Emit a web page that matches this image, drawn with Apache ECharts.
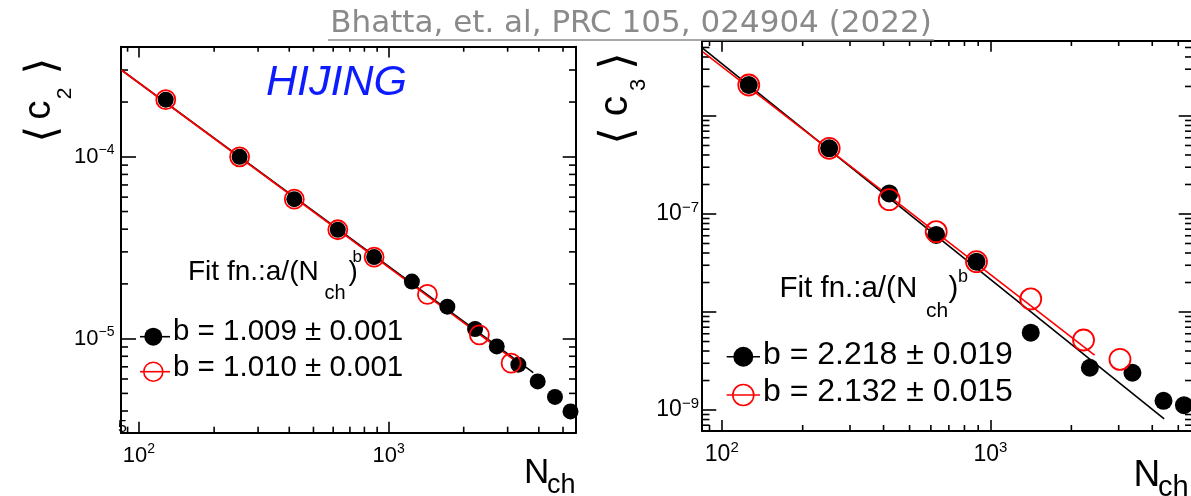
<!DOCTYPE html>
<html>
<head>
<meta charset="utf-8">
<script src="https://cdn.jsdelivr.net/npm/echarts@6/dist/echarts.min.js"></script>
<style>
    html, body { margin: 0; background: #fff; }
    #chart { width: 1191px; height: 496px; }
</style>
</head>
<body>
<div id="chart"></div>
<script>
// x axis (N_ch), both panels
const nchRangeL = [84.7, 5636];
const nchRangeR = [84.4, 5623];
const nchLabels = [2, 3];
const nchMinor = [90, 200, 300, 400, 500, 600, 700, 800, 900, 2000, 3000, 4000, 5000];

// left panel: <c2>
const c2Range = [3.04e-6, 4.03e-4];
const c2Labels = [-5, -4];
const c2Minor = [4e-6, 5e-6, 6e-6, 7e-6, 8e-6, 9e-6,
    2e-5, 3e-5, 4e-5, 5e-5, 6e-5, 7e-5, 8e-5, 9e-5, 2e-4, 3e-4];
const c2Black = [[128, 2.06e-4], [253, 1.0e-4], [419, 5.85e-5], [626, 3.97e-5], [875, 2.81e-5],
    [1240, 2.06e-5], [1720, 1.50e-5], [2221, 1.13e-5], [2713, 9.06e-6], [3311, 7.19e-6],
    [3958, 5.82e-6], [4642, 4.78e-6], [5357, 3.98e-6]];
const c2Red = [[128, 2.06e-4], [253, 1.0e-4], [419, 5.85e-5], [626, 3.97e-5], [875, 2.81e-5],
    [1431, 1.75e-5], [2311, 1.05e-5], [3097, 7.33e-6]];
const c2BlackFit = [[85, 3.0e-4], [3800, 6.5e-6]];
const c2RedFit = [[85, 3.0e-4], [3200, 7.6e-6]];

// right panel: <c3>
const c3Range = [6.11e-10, 5.82e-6];
const c3Labels = [-9, -7];
const c3Minor = [7e-10, 8e-10, 9e-10,
    2e-9, 3e-9, 4e-9, 5e-9, 6e-9, 7e-9, 8e-9, 9e-9,
    2e-8, 3e-8, 4e-8, 5e-8, 6e-8, 7e-8, 8e-8, 9e-8,
    2e-7, 3e-7, 4e-7, 5e-7, 6e-7, 7e-7, 8e-7, 9e-7,
    2e-6, 3e-6, 4e-6, 5e-6];
const c3Black = [[126, 2.07e-6], [251, 4.68e-7], [420, 1.62e-7], [628, 6.11e-8], [887, 3.26e-8],
    [1412, 6.15e-9], [2343, 2.70e-9], [3375, 2.40e-9], [4405, 1.24e-9], [5250, 1.12e-9]];
const c3Red = [[126, 2.07e-6], [251, 4.68e-7], [420, 1.40e-7], [628, 6.6e-8], [887, 3.26e-8],
    [1412, 1.36e-8], [2220, 5.18e-9], [3033, 3.29e-9]];
const c3BlackFit = [[85, 4.9e-6], [4430, 8.1e-10]];
const c3RedFit = [[85, 4.5e-6], [2440, 3.64e-9]];

const FONT = 'Liberation Sans';
const RED = '#ff0000';

function decadeLabel(list) {
    return function (v) {
        const lg = Math.log10(v);
        const e = Math.round(lg);
        if (Math.abs(lg - e) > 1e-6 || list.indexOf(e) < 0) return '';
        return '{b|10}{s|' + String(e).replace('-', '\u2212') + '}';
    };
}

function logAxis(grid, pos, range, tickLen, labels, size, margin) {
    return {
        type: 'log', logBase: 10, gridIndex: grid, position: pos,
        min: range[0], max: range[1],
        axisLine: { show: true, onZero: false, lineStyle: { color: '#000', width: 2 } },
        axisTick: { show: true, inside: true, length: tickLen, lineStyle: { color: '#000', width: 1.6 } },
        minorTick: { show: false },
        splitLine: { show: false },
        axisLabel: labels ? {
            show: true, margin: margin, showMinLabel: false, showMaxLabel: false,
            formatter: decadeLabel(labels),
            rich: {
                b: { fontSize: size, lineHeight: 28, fontFamily: FONT, color: '#000' },
                s: { fontSize: Math.round(size * 0.65), lineHeight: 14, verticalAlign: 'top', fontFamily: FONT, color: '#000' }
            }
        } : { show: false }
    };
}

// minor ticks on all four sides, placed through the axis scales
function minorTicks(axisIdx, dir, ticks, xr, yr, lens) {
    return {
        type: 'custom', xAxisIndex: axisIdx, yAxisIndex: axisIdx, clip: false, z: 1, silent: true,
        data: ticks.map(v => dir === 'x' ? [v, yr[0]] : [xr[0], v]),
        renderItem: function (params, api) {
            const st = { stroke: '#000', lineWidth: 1.6 };
            if (dir === 'x') {
                const v = api.value(0);
                const b = api.coord([v, yr[0]]), t = api.coord([v, yr[1]]);
                return { type: 'group', children: [
                    { type: 'line', shape: { x1: b[0], y1: b[1], x2: b[0], y2: b[1] - lens[0] }, style: st },
                    { type: 'line', shape: { x1: t[0], y1: t[1], x2: t[0], y2: t[1] + lens[1] }, style: st }
                ] };
            }
            const v = api.value(1);
            const l = api.coord([xr[0], v]), r = api.coord([xr[1], v]);
            return { type: 'group', children: [
                { type: 'line', shape: { x1: l[0], y1: l[1], x2: l[0] + lens[0], y2: l[1] }, style: st },
                { type: 'line', shape: { x1: r[0], y1: r[1], x2: r[0] - lens[1], y2: r[1] }, style: st }
            ] };
        }
    };
}

function fitLine(axisIdx, data, color) {
    return {
        type: 'line', xAxisIndex: axisIdx, yAxisIndex: axisIdx, data: data, symbol: 'none', z: 3,
        lineStyle: { color: color, width: 1.6, opacity: 1 }, silent: true
    };
}

function points(axisIdx, data, size, open) {
    return {
        type: 'scatter', xAxisIndex: axisIdx, yAxisIndex: axisIdx, data: data, symbol: 'circle',
        symbolSize: size, z: open ? 5 : 4, silent: true,
        itemStyle: open
            ? { color: 'transparent', borderColor: RED, borderWidth: 1.8, opacity: 1 }
            : { color: '#000', opacity: 1 }
    };
}

// text with its baseline at y
function txt(x, base, text, size, extra) {
    return {
        type: 'text', x: x, y: base - 0.3465 * size, z: 100,
        style: Object.assign({ text: text, fontSize: size, fontFamily: FONT, fill: '#000', align: 'left', verticalAlign: 'middle' }, extra || {})
    };
}

// rotated text (reads bottom to top), baseline at screen x
function vtxt(xBase, yMid, text, size, font) {
    return {
        type: 'text', x: xBase - 0.3465 * size, y: yMid, rotation: Math.PI / 2, z: 100,
        style: { text: text, fontSize: size, fontFamily: font || FONT, fill: '#000', align: 'center', verticalAlign: 'middle' }
    };
}

function bracket(x, y, ch, size) {
    return {
        type: 'text', x: x, y: y, rotation: Math.PI / 2, z: 100,
        style: { text: ch, fontSize: size, fontFamily: 'DejaVu Sans', fill: '#000', align: 'center', verticalAlign: 'middle' }
    };
}

function legendRow(cx, cy, x1, x2, r, open) {
    return [
        { type: 'line', z: 100, shape: { x1: x1, y1: cy, x2: x2, y2: cy }, style: { stroke: open ? RED : '#000', lineWidth: 1.6 } },
        { type: 'circle', z: 101, shape: { cx: cx, cy: cy, r: r },
            style: open ? { fill: 'none', stroke: RED, lineWidth: 1.6 } : { fill: '#000' } }
    ];
}

const chart = echarts.init(document.getElementById('chart'));
chart.setOption({
    animation: false,
    backgroundColor: '#fff',
    grid: [
        { left: 121, top: 46.7, width: 455, height: 386, outerBoundsMode: 'none' },
        { left: 702, top: 41, width: 490, height: 390, outerBoundsMode: 'none' }
    ],
    xAxis: [
        logAxis(0, 'bottom', nchRangeL, 11, nchLabels, 22, 9.5),
        logAxis(0, 'top', nchRangeL, 10.7),
        logAxis(1, 'bottom', nchRangeR, 11, nchLabels, 23, 9.5),
        logAxis(1, 'top', nchRangeR, 10.7)
    ],
    yAxis: [
        logAxis(0, 'left', c2Range, 15, c2Labels, 22, 6.5),
        logAxis(0, 'right', c2Range, 13.3),
        logAxis(1, 'left', c3Range, 14.3, c3Labels, 23, 3),
        logAxis(1, 'right', c3Range, 13.3)
    ],
    series: [
        minorTicks(0, 'x', nchMinor, nchRangeL, c2Range, [6, 5]),
        minorTicks(0, 'y', c2Minor, nchRangeL, c2Range, [7, 7]),
        fitLine(0, c2BlackFit, '#000'),
        fitLine(0, c2RedFit, RED),
        points(0, c2Black, 16, false),
        points(0, c2Red, 19, true),

        minorTicks(2, 'x', nchMinor, nchRangeR, c3Range, [6, 5]),
        minorTicks(2, 'y', c3Minor, nchRangeR, c3Range, [7.5, 7]),
        fitLine(2, c3BlackFit, '#000'),
        fitLine(2, c3RedFit, RED),
        points(2, c3Black, 18, false),
        points(2, c3Red, 21, true)
    ],
    graphic: [
        // citation
        txt(631, 35, 'Bhatta, et. al, PRC 105, 024904 (2022)', 31, { fontFamily: 'DejaVu Sans', fill: '#8a8a8a', align: 'center' }),
        { type: 'line', z: 100, shape: { x1: 328, y1: 40, x2: 934, y2: 40 }, style: { stroke: '#8a8a8a', lineWidth: 1.6 } },

        txt(266, 97.7, 'HIJING', 43, { fill: '#0d1bff', fontStyle: 'italic' }),

        // y titles
        vtxt(53, 110, 'c', 38),
        vtxt(72, 93.5, '2', 21),
        bracket(44, 134, '\u27E8', 43),
        bracket(44, 66, '\u27E9', 43),
        vtxt(630, 106, 'c', 41),
        vtxt(647, 85, '3', 22),
        bracket(619, 136, '\u27E8', 45),
        bracket(619, 61, '\u27E9', 45),

        // x titles
        txt(524, 485, 'N', 35),
        txt(547, 495, 'ch', 27),
        txt(1133.5, 488.3, 'N', 37),
        txt(1158, 498, 'ch', 29),

        txt(118, 433, '5', 16),

        // fit function
        txt(188, 281.7, 'Fit fn.:a/(N', 28),
        txt(324.5, 300, 'ch', 20),
        txt(348.5, 281.7, ')', 28),
        txt(352.5, 263.3, 'b', 17),
        txt(779.5, 299.3, 'Fit fn.:a/(N', 29.5),
        txt(926, 318.3, 'ch', 21),
        txt(948.5, 299.3, ')', 29.5),
        txt(958, 283.3, 'b', 18),

        // legends
        ...legendRow(153.3, 336.7, 140, 170, 9, false),
        ...legendRow(153.3, 371.7, 140, 170, 9.5, true),
        txt(173, 342.3, 'b = 1.009 \u00B1 0.001', 29.5),
        txt(173, 377.7, 'b = 1.010 \u00B1 0.001', 29.5),
        ...legendRow(743.3, 356.7, 726.7, 760, 10, false),
        ...legendRow(743.3, 395, 726.7, 760, 10.5, true),
        txt(763, 366, 'b = 2.218 \u00B1 0.019', 32),
        txt(763, 403.3, 'b = 2.132 \u00B1 0.015', 32)
    ]
});
</script>
</body>
</html>
